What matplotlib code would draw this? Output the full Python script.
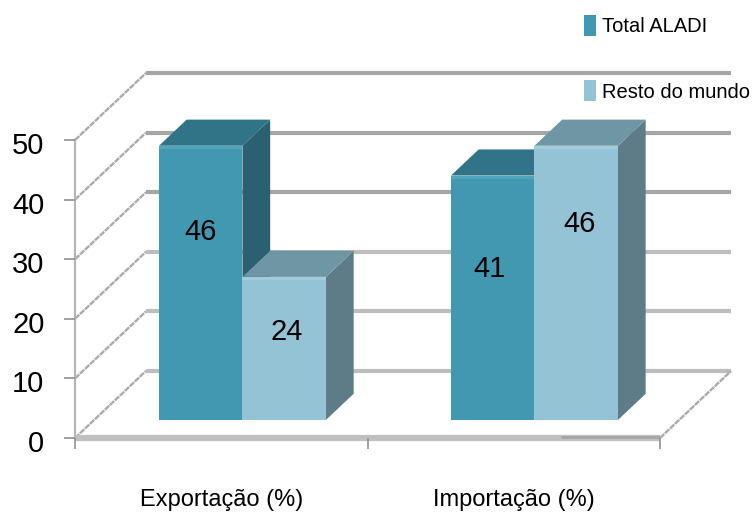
import matplotlib
matplotlib.use("Agg")
import matplotlib.pyplot as plt
from matplotlib.patches import Polygon, Patch
from matplotlib.transforms import ScaledTranslation

plt.rcParams['font.family'] = ['Liberation Sans', 'DejaVu Sans']

categories = ["Exportação (%)", "Importação (%)"]
series_names = ["Total ALADI", "Resto do mundo"]
total_aladi = [46, 41]
resto_mundo = [24, 46]
y_ticks = [0, 10, 20, 30, 40, 50]

W, H = 753, 514
fig = plt.figure(figsize=(W/100, H/100), dpi=100)
L, R, B, T = 75, 660, 438, 140
ax = fig.add_axes([L/W, 1-B/H, (R-L)/W, (B-T)/H])
ax.set_xlim(0, 2)
ax.set_ylim(0, 50)
for s in ax.spines.values():
    s.set_visible(False)
ax.patch.set_visible(False)

ux = (R-L)/2          # px per category
uy = (B-T)/50         # px per value
def proj(x, v, d):
    """oblique projection; d in 0..1 is depth from front to back wall"""
    return (x + d*71/ux, v + d*67/uy)

wall = '#ababab'
for v in y_ticks:
    col = '#a6a6a6' if v >= 30 else '#bdbdbd'
    x0, y0 = proj(0, v, 0); x1, y1 = proj(0, v, 1); x2, y2 = proj(2, v, 1)
    ax.plot([x0, x1], [y0, y1], color=wall, lw=1.7, ls=(0, (2.5, 0.4)), clip_on=False, zorder=1)
    ax.plot([x1, x2], [y1, y2], color=col, lw=3, clip_on=False, zorder=1, solid_capstyle='butt')
x0, y0 = proj(2, 0, 0); x1, y1 = proj(2, 0, 1)
ax.plot([x0, x1], [y0, y1], color=wall, lw=1.7, ls=(0, (2.5, 0.4)), clip_on=False, zorder=1)
ax.plot([0, 2], [0, 0], color='#c0c0c0', lw=4.5, clip_on=False, zorder=1, solid_capstyle='butt')
ax.plot([1.66, 2], [0.1, 0.1], color='#a6a6a6', lw=2, clip_on=False, zorder=1.1, solid_capstyle='butt')
ax.plot([0, 0], [0, 50], color='#b4b4b4', lw=1.5, clip_on=False, zorder=1)

bar_w = 83.5/ux
d0, d1 = 0.27, 0.66
def bar(x, v, front, strip, top, side):
    w = bar_w
    f = [proj(x, 0, d0), proj(x+w, 0, d0), proj(x+w, v, d0), proj(x, v, d0)]
    t = [proj(x, v, d0), proj(x+w, v, d0), proj(x+w, v, d1), proj(x, v, d1)]
    s = [proj(x+w, 0, d0), proj(x+w, 0, d1), proj(x+w, v, d1), proj(x+w, v, d0)]
    st = [proj(x, v-0.5, d0), proj(x+w, v-0.5, d0), proj(x+w, v, d0), proj(x, v, d0)]
    ax.add_patch(Polygon(s, fc=side, ec='none', zorder=3, clip_on=False))
    ax.add_patch(Polygon(t, fc=top, ec='none', zorder=3, clip_on=False))
    ax.add_patch(Polygon(f, fc=front, ec='none', zorder=3.2, clip_on=False))
    ax.add_patch(Polygon(st, fc=strip, ec='none', zorder=3.3, clip_on=False))

starts = [(159-L-19.2)/ux, (451-L-19.2)/ux]
for i in range(2):
    bar(starts[i], total_aladi[i], '#4198b0', '#52a4ba', '#317487', '#2b6070')
    bar(starts[i]+bar_w, resto_mundo[i], '#94c3d5', '#a3ccdb', '#6f96a4', '#5d7c88')

# value labels sit above the middle of each bar face
for i in range(2):
    for j, vals in enumerate([total_aladi, resto_mundo]):
        v = vals[i]
        nudge = [[0, 2], [-3, 3]][i][j] / ux
        lift = [[8.6, 2.8], [4.8, 9.8]][i][j]
        cx, cy = proj(starts[i] + bar_w*(j+0.5) + nudge, v*0.5, d0)
        ax.text(cx, cy + lift, str(v), ha='center', va='center', fontsize=21, color='black', zorder=5)

ax.set_yticks(y_ticks)
ax.set_xticks([0, 1, 2])
ax.set_xticklabels([])
ax.set_xticks([0.5, 1.5], minor=True)
ax.set_xticklabels(categories, minor=True)
ax.tick_params(axis='y', length=8, width=1.2, color='#909090', labelsize=21, pad=14)
ax.tick_params(axis='x', which='major', length=8, width=1.2, color='#909090')
ax.tick_params(axis='x', which='minor', length=0, labelsize=17, pad=37)
off = ScaledTranslation(0, -3/100, fig.dpi_scale_trans)
for lab in ax.get_yticklabels():
    lab.set_transform(lab.get_transform() + off)

handles = [Patch(fc='#4198b0', ec='none'), Patch(fc='#94c3d5', ec='none')]
fig.legend(handles, series_names, loc='upper left', bbox_to_anchor=(578/W, 1-9/H), frameon=False,
           fontsize=14.5, handlelength=0.58, handleheight=1.2, handletextpad=0.3,
           labelspacing=2.2, borderpad=0.3, borderaxespad=0)

fig.savefig('out.png', dpi=100)
